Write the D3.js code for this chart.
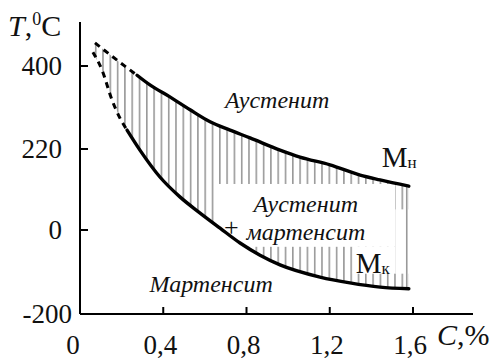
<!DOCTYPE html>
<html><head><meta charset="utf-8"><script src="https://cdn.jsdelivr.net/npm/d3@7"></script></head>
<body style="margin:0">
<svg id="s" width="497" height="358"></svg>
<script>
// ---- Data ----
const xTicks = [0, 0.4, 0.8, 1.2, 1.6];
const xTickLabels = ["0", "0,4", "0,8", "1,2", "1,6"];
const yTicks = [-200, 0, 220, 400];
const yTickLabels = ["-200", "0", "220", "400"];

// Mн (start of martensite transformation), C %, T °C
const msC = [0.072, 0.12, 0.183, 0.274, 0.336, 0.432, 0.529, 0.625, 0.721, 0.817, 0.961, 1.057, 1.201, 1.346, 1.442, 1.58];
const msT = [450, 433, 411, 380, 359, 333, 305, 279, 261, 244, 217, 198, 177, 149, 136, 119];
const msDashedUntil = 0.274;

// Mк (end of martensite transformation)
const mfC = [0.062, 0.106, 0.154, 0.192, 0.226, 0.288, 0.384, 0.48, 0.577, 0.673, 0.769, 0.865, 0.961, 1.153, 1.297, 1.442, 1.58];
const mfT = [430, 391, 326, 287, 261, 217, 144, 90, 46, 5, -31, -60, -83, -112, -126, -136, -140];
const mfDashedUntil = 0.226;

// ---- Layout ----
const svg = d3.select("#s").style("font-family", '"Liberation Serif"');
const x = d3.scaleLinear().domain([0, 1.6]).range([80, 413]);
const y = d3.scaleLinear().domain([-200, 0, 220, 400]).range([314, 230, 149, 66]);

function txt(sel) {
  return sel.style("font-family", '"Liberation Serif"').attr("fill", "#111");
}

const defs = svg.append("defs");
const pat = defs.append("pattern")
  .attr("id", "hatch").attr("patternUnits", "userSpaceOnUse")
  .attr("x", 0).attr("y", 0).attr("width", 7.3).attr("height", 10);
pat.append("rect").attr("x", 0).attr("y", 0).attr("width", 1.6).attr("height", 10).attr("fill", "#999");

const ms = msC.map((c, i) => [c, msT[i]]);
const mf = mfC.map((c, i) => [c, mfT[i]]);

// hatched region between the curves
const poly = ms.concat(mf.slice().reverse());
svg.append("path")
  .attr("d", d3.line().x(d => x(d[0])).y(d => y(d[1]))(poly) + "Z")
  .attr("fill", "url(#hatch)").attr("stroke", "none");

// blank areas for labels inside the hatched region (data coordinates)
const blanks = [
  [0.655, 1.515, 125, -40],
  [1.31, 1.515, -40, -104],
  [1.515, 1.585, 56, -104]
];
svg.selectAll("rect.blank").data(blanks).enter().append("rect")
  .attr("x", d => x(d[0])).attr("width", d => x(d[1]) - x(d[0]))
  .attr("y", d => y(d[2])).attr("height", d => y(d[3]) - y(d[2]))
  .attr("fill", "#fff");

// right-hand vertical boundary
svg.append("line")
  .attr("x1", x(1.57)).attr("x2", x(1.57))
  .attr("y1", y(120)).attr("y2", y(-140))
  .attr("stroke", "#999").attr("stroke-width", 1.6);

// curves
const line = d3.line().x(d => x(d[0])).y(d => y(d[1])).curve(d3.curveMonotoneX);
function drawCurve(pts, until) {
  const dashed = pts.filter(d => d[0] <= until);
  const solid = pts.filter(d => d[0] >= until);
  svg.append("path").attr("d", line(dashed)).attr("fill", "none")
    .attr("stroke", "#000").attr("stroke-width", 3).attr("stroke-dasharray", "6,5");
  svg.append("path").attr("d", line(solid)).attr("fill", "none")
    .attr("stroke", "#000").attr("stroke-width", 3.4).attr("stroke-linecap", "round");
}
drawCurve(ms, msDashedUntil);
drawCurve(mf, mfDashedUntil);

// ---- Axes ----
svg.append("line").attr("x1", x(0)).attr("x2", x(0)).attr("y1", 22).attr("y2", y(-200))
  .attr("stroke", "#000").attr("stroke-width", 2);
svg.append("line").attr("x1", x(0)).attr("x2", 473).attr("y1", y(-200)).attr("y2", y(-200))
  .attr("stroke", "#000").attr("stroke-width", 2);

svg.selectAll("line.yt").data(yTicks.filter(v => v !== -200)).enter().append("line")
  .attr("x1", x(0)).attr("x2", x(0) + 8).attr("y1", d => y(d)).attr("y2", d => y(d))
  .attr("stroke", "#000").attr("stroke-width", 2);
txt(svg.selectAll("text.yl").data(yTicks).enter().append("text"))
  .attr("x", d => d === -200 ? 72 : 62)
  .attr("y", d => y(d) + 9)
  .attr("text-anchor", "end").attr("font-size", 27)
  .text((d, i) => yTickLabels[i]);

svg.selectAll("line.xt").data(xTicks.filter(v => v !== 0)).enter().append("line")
  .attr("x1", d => x(d)).attr("x2", d => x(d)).attr("y1", y(-200)).attr("y2", y(-200) - 7)
  .attr("stroke", "#000").attr("stroke-width", 2);
txt(svg.selectAll("text.xl").data(xTicks).enter().append("text"))
  .attr("x", d => x(d) - (d === 0 ? 7 : 3))
  .attr("y", 354)
  .attr("text-anchor", "middle").attr("font-size", 27)
  .text((d, i) => xTickLabels[i]);

// axis titles
const tY = txt(svg.append("text")).attr("x", 8).attr("y", 36).attr("font-size", 30);
tY.append("tspan").attr("font-style", "italic").text("T");
tY.append("tspan").text(",");
tY.append("tspan").attr("font-size", 18).attr("dy", -11).text("0");
tY.append("tspan").attr("dy", 11).text("C");

const tX = txt(svg.append("text")).attr("x", 437).attr("y", 345).attr("font-size", 30);
tX.append("tspan").attr("font-style", "italic").text("C");
tX.append("tspan").text(",%");

// ---- Region labels (data coordinates) ----
const labels = [
  {c: 0.947, t: 309, s: "Аустенит", italic: true, size: 24},
  {c: 1.085, t: 49, s: "Аустенит", italic: true, size: 24},
  {c: 1.085, t: -24, s: "мартенсит", italic: true, size: 24},
  {c: 0.727, t: -14, s: "+", italic: false, size: 26},
  {c: 0.63, t: -148, s: "Мартенсит", italic: true, size: 24}
];
txt(svg.selectAll("text.lab").data(labels).enter().append("text"))
  .attr("x", d => x(d.c)).attr("y", d => y(d.t))
  .attr("text-anchor", "middle")
  .attr("font-size", d => d.size)
  .attr("font-style", d => d.italic ? "italic" : "normal")
  .text(d => d.s);

// Mн and Mк
const mLabels = [
  {c: 1.45, t: 172, sub: "н"},
  {c: 1.325, t: -102, sub: "к"}
];
mLabels.forEach(m => {
  const t = txt(svg.append("text")).attr("x", x(m.c)).attr("y", y(m.t)).attr("font-size", 29);
  t.append("tspan").text("M");
  t.append("tspan").attr("font-size", 17).attr("dy", 1).text(m.sub);
});
</script></body></html>
